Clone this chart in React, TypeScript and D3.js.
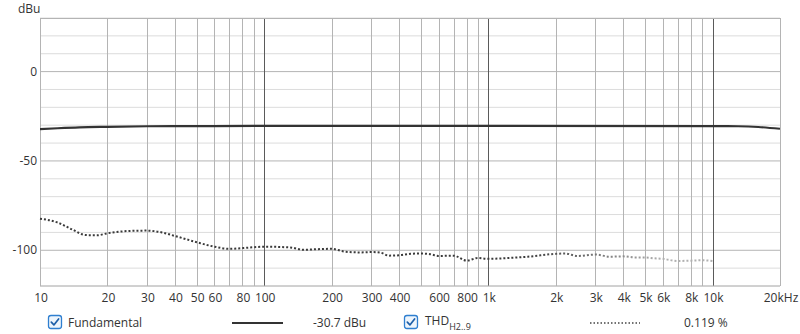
import React from "react";
import * as d3 from "d3";

const W = 800;
const H = 334;

const xTickValues = [10, 20, 30, 40, 50, 60, 80, 100, 200, 300, 400, 600, 800, 1000, 2000, 3000, 4000, 5000, 6000, 8000, 10000, 20000];
const xTickLabels = ["10", "20", "30", "40", "50", "60", "80", "100", "200", "300", "400", "600", "800", "1k", "2k", "3k", "4k", "5k", "6k", "8k", "10k", "20kHz"];
const yTickValues = [0, -50, -100];
const yTickLabels = ["0", "-50", "-100"];

const fundFreqs = [10, 12, 15, 20, 30, 50, 100, 1000, 10000, 13000, 16000, 20000];
const fundValues = [-32.2, -31.7, -31.2, -30.9, -30.6, -30.5, -30.4, -30.4, -30.5, -30.6, -31.0, -32.0];

const thdFreqs = [10, 12, 14, 16, 18, 20, 25, 30, 35, 40, 50, 60, 70, 80, 100, 130, 150, 180, 200, 230, 270, 300, 330, 360, 400, 450, 500, 550, 600, 700, 800, 900, 1000, 1200, 1500, 2000, 2200, 2500, 3000, 3500, 4000, 4500, 5000, 5500, 6000, 7000, 8000, 9000, 10000];
const thdValues = [-82.3, -84.5, -88.5, -91.5, -91.6, -90.5, -89.2, -89.0, -90.0, -92.0, -95.5, -98.0, -99.2, -98.8, -98.0, -98.4, -99.7, -99.3, -99.2, -100.8, -101.2, -101.0, -101.3, -103.0, -102.8, -102.0, -101.8, -102.2, -103.2, -103.0, -105.8, -104.3, -104.8, -104.4, -103.6, -102.0, -101.8, -103.2, -102.4, -103.6, -103.4, -104.0, -104.0, -104.5, -104.8, -106.0, -105.8, -105.6, -106.0];

const legendFundName = "Fundamental";
const legendFundValue = "-30.7 dBu";
const legendThdValue = "0.119 %";

const font = "'Open Sans', 'Noto Sans', sans-serif";

function Checkbox({ x, y }: { x: number; y: number }) {
  return (
    <g transform={`translate(${x},${y})`}>
      <rect x={0.5} y={0.5} width={13} height={13} rx={2.5} fill="#eef5fc" stroke="#2f7fd0" strokeWidth={1.3} />
      <path d="M3.3,7.2 L5.9,9.9 L10.6,3.9" fill="none" stroke="#1e5fa8" strokeWidth={1.7} strokeLinecap="round" strokeLinejoin="round" />
    </g>
  );
}

export default function App() {
  const x = d3.scaleLog().domain([10, 20000]).range([40, 780]);
  const y = d3.scaleLinear().domain([-120, 30]).range([286, 18]);

  const gridFreqs: number[] = [];
  for (let dec = 10; dec <= 10000; dec *= 10) {
    for (let m = 1; m <= 9; m++) {
      const f = dec * m;
      if (f <= 20000) gridFreqs.push(f);
    }
  }
  gridFreqs.push(20000);
  const yGrid = d3.range(-120, 31, 10);

  const line = d3
    .line<number>()
    .x((_, i) => 0)
    .curve(d3.curveMonotoneX);

  const fundPath = d3
    .line<[number, number]>()
    .x((d) => x(d[0]))
    .y((d) => y(d[1]))
    .curve(d3.curveMonotoneX)(fundFreqs.map((f, i) => [f, fundValues[i]]));

  const thdPath = d3
    .line<[number, number]>()
    .x((d) => x(d[0]))
    .y((d) => y(d[1]))
    .curve(d3.curveMonotoneX)(thdFreqs.map((f, i) => [f, thdValues[i]]));

  void line;

  return (
    <svg width={W} height={H} style={{ position: "absolute", left: 0, top: 0, background: "#fff" }} fontFamily={font}>
      <defs>
        <linearGradient id="thdGrad" gradientUnits="userSpaceOnUse" x1={x(1500)} x2={x(6000)} y1={0} y2={0}>
          <stop offset="0" stopColor="#3a3a3a" />
          <stop offset="1" stopColor="#b0b0b0" />
        </linearGradient>
      </defs>
      <rect x={0} y={0} width={W} height={H} fill="#fff" />
      {yGrid.map((v) => (
        <line
          key={"h" + v}
          x1={40}
          x2={780}
          y1={y(v)}
          y2={y(v)}
          stroke={v % 50 === 0 ? "#b4b4b4" : "#dcdcdc"}
          strokeWidth={1}
        />
      ))}
      {gridFreqs.map((f) => {
        const isDec = f === 100 || f === 1000 || f === 10000;
        return (
          <line
            key={"v" + f}
            x1={Math.round(x(f)) + 0.5}
            x2={Math.round(x(f)) + 0.5}
            y1={18}
            y2={286}
            stroke={isDec ? "#5a5a5a" : "#b4b4b4"}
            strokeWidth={1}
          />
        );
      })}
      <line x1={40} x2={780} y1={18.5} y2={18.5} stroke="#b4b4b4" />
      <line x1={40} x2={780} y1={286} y2={286} stroke="#b4b4b4" />
      <line x1={40.5} x2={40.5} y1={18} y2={286} stroke="#b4b4b4" />

      <path d={thdPath || ""} fill="none" stroke="url(#thdGrad)" strokeWidth={2} strokeDasharray="2 2" />
      <path d={fundPath || ""} fill="none" stroke="#333" strokeWidth={2.2} />

      <text x={18} y={13} fontSize={12} fill="#333">dBu</text>
      {yTickValues.map((v, i) => (
        <text key={"yt" + v} x={37} y={y(v) + 4} fontSize={12} fill="#333" textAnchor="end">
          {yTickLabels[i]}
        </text>
      ))}
      {xTickValues.map((f, i) => (
        <text key={"xt" + f} x={x(f) + 1} y={302} fontSize={12} fill="#333" textAnchor="middle">
          {xTickLabels[i]}
        </text>
      ))}

      <Checkbox x={48} y={315} />
      <text x={68} y={327} fontSize={12} fill="#333">{legendFundName}</text>
      <line x1={232} x2={283} y1={323} y2={323} stroke="#333" strokeWidth={2} />
      <text x={313} y={327} fontSize={12} fill="#333">{legendFundValue}</text>

      <Checkbox x={404} y={315} />
      <text x={425} y={325} fontSize={12} fill="#333">
        THD
        <tspan fontSize={9} dy={5}>H2..9</tspan>
      </text>
      <line x1={590} x2={640} y1={323} y2={323} stroke="#444" strokeWidth={1.5} strokeDasharray="1.5 2" />
      <text x={684} y={327} fontSize={12} fill="#333">{legendThdValue}</text>
    </svg>
  );
}
